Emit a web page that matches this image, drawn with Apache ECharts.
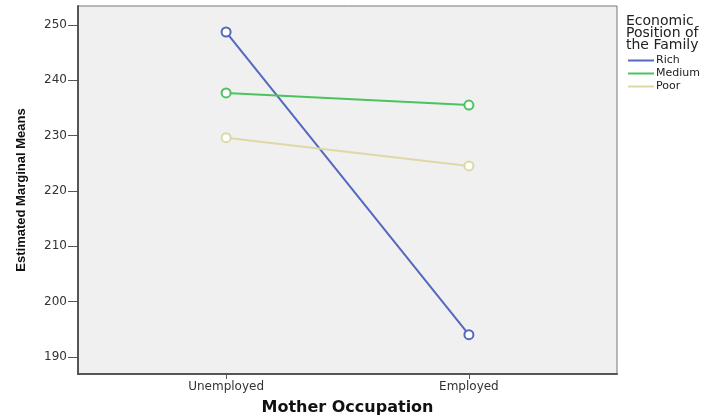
<!DOCTYPE html>
<html>
<head>
<meta charset="utf-8">
<script src="https://cdn.jsdelivr.net/npm/echarts@6/dist/echarts.min.js"></script>
<style>
  html, body { margin: 0; padding: 0; background: #fff; }
  #chart { width: 705px; height: 418px; }
</style>
</head>
<body>
<div id="chart"></div>
<script>
// categories on the x axis (placed at 1 and 2)
const occupations = ["Unemployed", "Employed"];
const richMeans = [248.7, 194.0];
const mediumMeans = [237.7, 235.5];
const poorMeans = [229.6, 224.5];
const yTicks = [190, 200, 210, 220, 230, 240, 250];

const chart = echarts.init(document.getElementById("chart"));

function toPoints(vals) {
  return vals.map((v, i) => [i + 1, v]);
}

const font = "'DejaVu Sans', sans-serif";

function lineSeries(name, vals, color) {
  return {
    name: name,
    type: "line",
    data: toPoints(vals),
    symbol: "emptyCircle",
    symbolSize: 9,
    lineStyle: { color: color, width: 2 },
    itemStyle: { color: color, borderWidth: 2 },
    z: 3
  };
}

const option = {
  animation: false,
  title: {
    text: "Economic\nPosition of\nthe Family",
    left: 621,
    top: 10,
    textStyle: {
      fontFamily: font,
      fontSize: 14,
      fontWeight: "normal",
      color: "#222",
      lineHeight: 12
    }
  },
  legend: {
    orient: "vertical",
    left: 623,
    top: 50,
    icon: "rect",
    itemWidth: 26,
    itemHeight: 2,
    itemGap: 2,
    textStyle: { fontFamily: font, fontSize: 11, color: "#222", padding: [0, 0, 0, -3] },
    data: ["Rich", "Medium", "Poor"]
  },
  grid: {
    left: 78,
    right: 88,
    top: 6,
    bottom: 44,
    outerBoundsMode: "none",
    show: true,
    backgroundColor: "#f0f0f0",
    borderColor: "#777",
    borderWidth: 1
  },
  xAxis: {
    type: "value",
    min: 0.39,
    max: 2.61,
    name: "Mother Occupation",
    nameLocation: "middle",
    nameGap: 26,
    nameTextStyle: { fontFamily: font, fontSize: 16, fontWeight: "bold", color: "#111" },
    splitLine: { show: false },
    axisLine: { show: true, lineStyle: { color: "#555", width: 2 } },
    axisTick: { show: true, customValues: [1, 2], length: 5, lineStyle: { color: "#555", width: 1 } },
    axisLabel: {
      customValues: [1, 2],
      formatter: v => occupations[Math.round(v) - 1] || "",
      fontFamily: font,
      fontSize: 12,
      color: "#333",
      margin: 7
    }
  },
  yAxis: {
    type: "value",
    min: 186.9,
    max: 253.4,
    name: "Estimated Marginal Means",
    nameLocation: "middle",
    nameGap: 50,
    nameTextStyle: {
      fontFamily: "'Liberation Sans', Arial, sans-serif",
      fontSize: 13,
      fontWeight: "bold",
      color: "#111"
    },
    splitLine: { show: false },
    axisLine: { show: true, lineStyle: { color: "#555", width: 2 } },
    axisTick: { show: true, customValues: yTicks, length: 10, lineStyle: { color: "#555", width: 1 } },
    axisLabel: {
      customValues: yTicks,
      fontFamily: font,
      fontSize: 12,
      color: "#333",
      margin: 11
    }
  },
  series: [
    lineSeries("Rich", richMeans, "#5468c0"),
    lineSeries("Medium", mediumMeans, "#4cc35c"),
    lineSeries("Poor", poorMeans, "#ddd9a6")
  ]
};

chart.setOption(option);
window.addEventListener("resize", () => chart.resize());
</script>
</body>
</html>
